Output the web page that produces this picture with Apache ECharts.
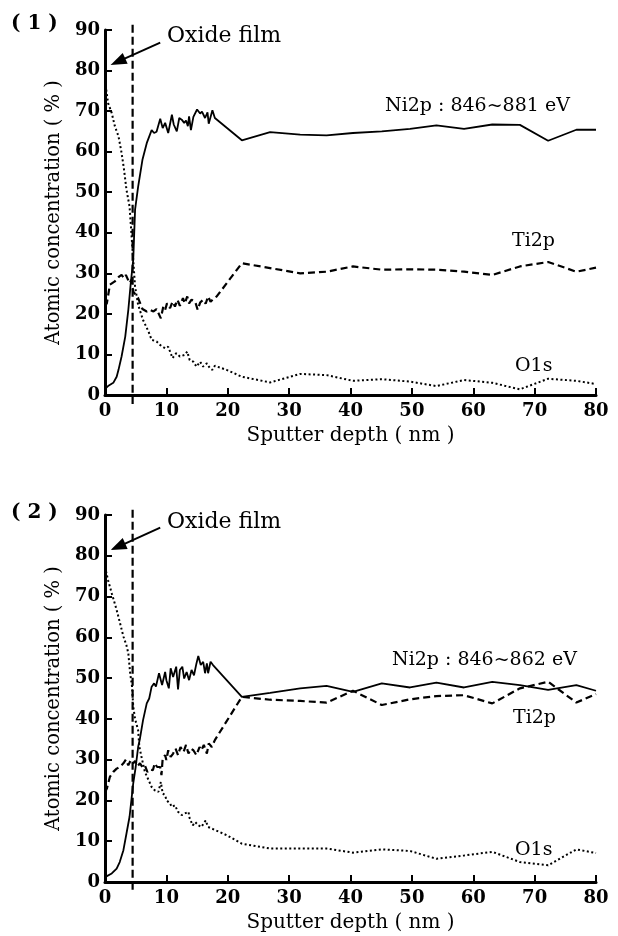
<!DOCTYPE html>
<html>
<head>
<meta charset="utf-8">
<script src="https://cdn.jsdelivr.net/npm/echarts@6/dist/echarts.min.js"></script>
<style>
html,body{margin:0;padding:0;background:#fff;}
#chart{width:618px;height:936px;}
</style>
</head>
<body>
<div id="chart"></div>
<script>
// ---------- data (depth nm, atomic concentration %) ----------
var tailDepth = [22.3, 26.9, 31.8, 36.1, 40.4, 45.1, 49.7, 54.0, 58.5, 63.1, 67.6, 72.2, 76.8, 80.0];

// Panel (1): Ni2p 846~881 eV
var ni1Head = [[0,1.5],[0.5,2.2],[1.35,3.0],[1.9,4.5],[2.2,6.2],[2.7,9.5],[3.3,14.4],[3.8,21.0],[4.2,27.6],[4.6,33.3],[4.9,45.7],[5.4,51.4],[6.1,58.0],[6.8,62.1],[7.6,65.3],[8.0,64.6],[8.4,64.9],[9.0,68.1],[9.4,65.8],[9.8,67.1],[10.3,64.6],[10.9,69.1],[11.2,66.7],[11.7,65.0],[12.1,68.3],[12.5,67.9],[12.9,67.1],[13.2,67.7],[13.5,66.3],[13.7,68.7],[14.0,65.3],[14.4,68.6],[15.0,70.4],[15.5,69.4],[15.8,69.9],[16.3,68.3],[16.7,69.7],[16.9,66.9],[17.5,70.2],[17.9,68.3]];
var ni1Tail = [62.8, 64.8, 64.2, 64.0, 64.6, 65.0, 65.6, 66.5, 65.6, 66.7, 66.6, 62.7, 65.4, 65.4];
var ti1Head = [[0,22.0],[0.3,22.6],[0.8,27.2],[1.6,28.0],[2.3,29.2],[2.7,29.6],[3.1,28.8],[3.4,29.6],[4.0,27.6],[4.3,28.4],[4.6,25.5],[5.4,23.9],[6.1,21.2],[6.8,20.6],[7.3,21.0],[7.9,20.6],[8.4,21.2],[9.1,18.9],[9.5,21.8],[9.8,21.0],[10.1,22.6],[10.6,21.4],[11.0,23.0],[11.4,21.8],[11.8,23.5],[12.2,22.0],[12.7,23.9],[13.0,22.6],[13.4,24.3],[13.7,22.6],[14.1,23.5],[14.7,23.0],[15.1,21.0],[15.5,22.8],[16.0,23.5],[16.4,22.5],[16.8,24.3],[17.2,23.0],[17.6,23.6],[18.2,24.3]];
var ti1Tail = [32.5, 31.3, 30.0, 30.4, 31.7, 30.9, 31.0, 30.9, 30.4, 29.6, 31.7, 32.8, 30.4, 31.4];
var o1Head = [[0,77.5],[0.5,72.0],[1.1,69.5],[1.6,66.3],[2.2,63.8],[2.7,59.7],[3.1,55.6],[3.5,50.6],[4.0,46.5],[4.6,33.3],[4.9,26.7],[5.4,22.2],[6.2,18.5],[7.1,15.6],[7.6,13.6],[8.4,13.2],[9.0,12.3],[9.8,11.5],[10.3,11.9],[10.7,10.3],[11.0,9.1],[11.6,10.3],[12.2,9.5],[13.0,9.9],[13.4,10.7],[13.8,8.6],[14.4,8.2],[14.9,7.0],[15.5,8.2],[16.0,7.0],[16.6,7.8],[17.1,6.6],[17.5,6.2],[17.9,7.2],[19.8,6.2]];
var o1Tail = [4.5, 3.1, 5.2, 4.9, 3.5, 3.9, 3.3, 2.2, 3.7, 3.0, 1.4, 4.0, 3.5, 2.7];

// Panel (2): Ni2p 846~862 eV
var ni2Head = [[0,1.2],[0.3,1.6],[1.1,2.1],[1.9,3.3],[2.4,4.9],[3.0,7.8],[3.5,11.9],[4.0,16.0],[4.3,20.1],[4.6,24.2],[5.0,28.2],[5.4,33.1],[5.7,35.2],[6.2,39.7],[6.8,43.8],[7.2,45.0],[7.6,47.9],[8.0,48.7],[8.3,47.9],[8.8,51.2],[9.3,48.3],[9.8,51.5],[10.0,49.5],[10.4,47.5],[10.7,52.4],[11.1,50.3],[11.6,52.8],[11.9,47.2],[12.2,52.0],[12.6,52.8],[12.9,49.9],[13.3,51.5],[13.7,49.5],[14.1,52.0],[14.5,50.7],[14.9,53.6],[15.2,55.4],[15.6,53.2],[16.0,54.0],[16.3,51.2],[16.6,53.6],[16.8,51.2],[17.2,54.0],[17.6,53.2]];
var ni2Tail = [45.4, 46.4, 47.5, 48.1, 46.6, 48.7, 47.7, 48.9, 47.7, 49.1, 48.3, 47.1, 48.3, 46.9];
var ti2Head = [[0,22.0],[0.3,22.9],[0.8,25.8],[1.35,27.0],[1.9,27.8],[2.4,28.2],[3.0,29.1],[3.4,30.0],[3.8,28.6],[4.2,29.9],[4.6,29.1],[4.9,29.7],[5.3,28.4],[5.7,29.1],[6.1,28.2],[6.5,28.6],[6.9,27.0],[7.3,27.6],[7.8,27.4],[8.1,29.1],[8.5,28.2],[9.0,28.2],[9.2,26.2],[9.4,30.3],[9.8,31.1],[10.0,29.9],[10.3,32.3],[10.7,30.7],[11.1,31.5],[11.5,32.7],[11.9,31.1],[12.3,33.1],[12.8,31.9],[13.2,33.6],[13.6,31.5],[14.0,32.7],[14.4,32.3],[14.9,31.1],[15.4,33.1],[15.7,32.3],[16.1,33.6],[16.6,31.5],[16.9,34.0],[17.4,33.1],[17.9,34.8]];
var ti2Tail = [45.4, 44.7, 44.4, 44.0, 46.9, 43.4, 44.8, 45.6, 45.8, 43.8, 47.5, 49.1, 44.0, 46.1];
var o2Head = [[0,77.3],[0.5,74.0],[1.1,70.8],[1.9,66.7],[2.7,62.0],[3.0,60.2],[3.5,58.0],[3.8,56.1],[4.1,51.2],[4.4,48.0],[4.6,43.0],[4.9,40.0],[5.4,37.2],[5.6,33.1],[6.0,30.3],[6.5,27.0],[7.1,25.0],[7.6,23.3],[8.1,22.5],[8.7,22.1],[9.1,24.5],[9.4,21.7],[9.8,21.3],[10.0,20.1],[10.3,20.5],[10.6,19.2],[10.9,18.4],[11.4,18.8],[11.9,17.2],[12.5,16.4],[13.0,16.8],[13.6,17.2],[13.8,15.6],[14.3,13.9],[14.7,14.7],[15.2,13.9],[15.7,13.5],[16.4,15.1],[16.8,13.5],[17.4,13.1],[19.8,11.5]];
var o2Tail = [9.4, 8.2, 8.2, 8.2, 7.2, 8.0, 7.6, 5.7, 6.5, 7.4, 4.9, 4.1, 8.0, 7.1];

// Oxide film boundary and arrow (depth nm, concentration %)
var oxideDepth = 4.5;
var oxideSpan = [91.3, -2.2];
var arrowFrom = [9.0, 86.9];
var arrowTo = [2.1, 82.2];

var xTicks = [0, 10, 20, 30, 40, 50, 60, 70, 80];
var yTicks = [0, 10, 20, 30, 40, 50, 60, 70, 80, 90];

var panelLabels = ['( 1 )', '( 2 )'];
var niLabels = ['Ni2p : 846~881 eV', 'Ni2p : 846~862 eV'];

// ---------- build ----------
function join(head, tail) {
  var out = head.slice();
  for (var i = 0; i < tailDepth.length; i++) out.push([tailDepth[i], tail[i]]);
  return out;
}
var FONT = 'DejaVu Serif';
var grids = [
  {left: 105, top: 30, width: 491, height: 365},
  {left: 105, top: 515, width: 491, height: 367}
];
function xAxis(i) {
  return {
    gridIndex: i, type: 'value', min: xTicks[0], max: xTicks[xTicks.length - 1], interval: 10,
    name: 'Sputter depth ( nm )', nameLocation: 'middle', nameGap: 31,
    nameTextStyle: {fontFamily: FONT, fontSize: 20, color: '#000'},
    axisLine: {show: true, onZero: false, lineStyle: {color: '#000', width: 3}},
    axisTick: {show: true, inside: true, length: 7, lineStyle: {color: '#000', width: 2}},
    axisLabel: {fontFamily: FONT, fontSize: 18, fontWeight: 'bold', color: '#000', margin: 7},
    splitLine: {show: false}
  };
}
function yAxis(i) {
  return {
    gridIndex: i, type: 'value', min: yTicks[0], max: yTicks[yTicks.length - 1], interval: 10,
    name: 'Atomic concentration ( % )', nameLocation: 'middle', nameGap: 40,
    nameTextStyle: {fontFamily: FONT, fontSize: 19.5, color: '#000'},
    axisLine: {show: true, onZero: false, lineStyle: {color: '#000', width: 3}},
    axisTick: {show: true, inside: true, length: 7, lineStyle: {color: '#000', width: 2}},
    axisLabel: {fontFamily: FONT, fontSize: 18, fontWeight: 'bold', color: '#000', margin: 5},
    splitLine: {show: false}
  };
}
function curve(i, name, data, type, width) {
  return {
    name: name, type: 'line', xAxisIndex: i, yAxisIndex: i, data: data,
    showSymbol: false, symbol: 'none', animation: false, silent: true,
    lineStyle: {color: '#000', width: width, type: type}
  };
}
function oxide(i) {
  return {
    name: 'Oxide film', type: 'line', xAxisIndex: i, yAxisIndex: i, clip: false,
    data: [[oxideDepth, oxideSpan[0]], [oxideDepth, oxideSpan[1]]],
    showSymbol: false, symbol: 'none', animation: false, silent: true,
    lineStyle: {color: '#000', width: 2.2, type: [8, 4]},
    markLine: {
      silent: true, animation: false, symbol: ['none', 'triangle'], symbolSize: [12, 16],
      label: {show: false},
      lineStyle: {color: '#000', width: 2, type: 'solid'},
      data: [[{coord: arrowFrom}, {coord: arrowTo}]]
    }
  };
}
var series = [
  curve(0, 'Ni2p', join(ni1Head, ni1Tail), 'solid', 1.8),
  curve(0, 'Ti2p', join(ti1Head, ti1Tail), [7, 4], 2.2),
  curve(0, 'O1s', join(o1Head, o1Tail), [2, 2.5], 2),
  oxide(0),
  curve(1, 'Ni2p', join(ni2Head, ni2Tail), 'solid', 1.8),
  curve(1, 'Ti2p', join(ti2Head, ti2Tail), [7, 4], 2.2),
  curve(1, 'O1s', join(o2Head, o2Tail), [2, 2.5], 2),
  oxide(1)
];
function txt(s, x, y, size, bold) {
  return {type: 'text', x: x, y: y, silent: true,
    style: {text: s, fill: '#000', fontFamily: FONT, fontSize: size, fontWeight: bold ? 'bold' : 'normal',
      textAlign: 'left', textVerticalAlign: 'middle'}};
}
var graphics = [
  txt(panelLabels[0], 11, 24, 20, true),
  txt('Oxide film', 167, 36, 22, false),
  txt(niLabels[0], 385, 106, 19, false),
  txt('Ti2p', 512, 241, 19, false),
  txt('O1s', 515, 366, 19, false),
  txt(panelLabels[1], 11, 513, 20, true),
  txt('Oxide film', 167, 522, 22, false),
  txt(niLabels[1], 392, 660, 19, false),
  txt('Ti2p', 513, 718, 19, false),
  txt('O1s', 515, 850, 19, false)
];

var chart = echarts.init(document.getElementById('chart'), null, {renderer: 'canvas'});
chart.setOption({
  backgroundColor: '#fff',
  animation: false,
  grid: grids,
  xAxis: [xAxis(0), xAxis(1)],
  yAxis: [yAxis(0), yAxis(1)],
  series: series,
  graphic: graphics
});
</script>
</body>
</html>
